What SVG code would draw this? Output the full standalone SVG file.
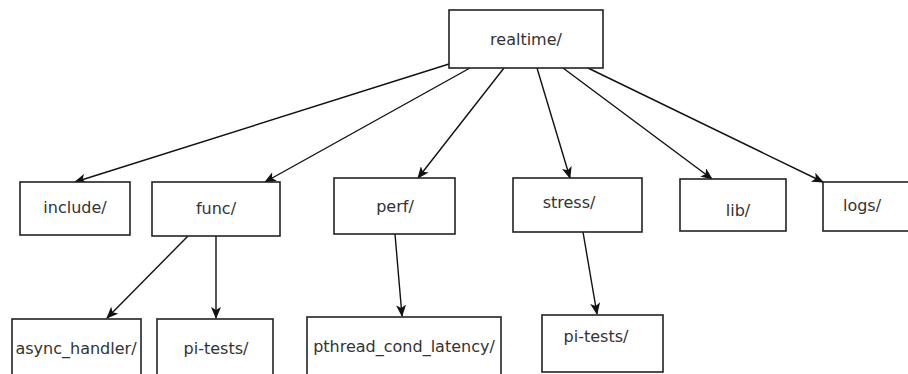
<svg xmlns="http://www.w3.org/2000/svg" width="908" height="374" viewBox="0 0 908 374">
<style>
.box{fill:#fff;stroke:#222;stroke-width:1.6}
.lbl{font-family:"DejaVu Sans",sans-serif;font-size:16px;fill:#333;text-anchor:middle;dominant-baseline:central}
.edge{stroke:#111;stroke-width:1.4;fill:none;marker-end:url(#ah)}
</style>
<defs>
<marker id="ah" viewBox="0 0 12 10" refX="11" refY="5" markerWidth="12" markerHeight="10" markerUnits="userSpaceOnUse" orient="auto">
<path d="M0,0 L12,5 L0,10 L3,5 Z" fill="#111"/>
</marker>
</defs>
<rect width="908" height="374" fill="#fff"/>
<g id="connectors">
<line class="edge" x1="449" y1="64" x2="75" y2="182"/>
<line class="edge" x1="470" y1="68" x2="265" y2="182"/>
<line class="edge" x1="504" y1="68" x2="418" y2="178"/>
<line class="edge" x1="537" y1="68" x2="570" y2="178"/>
<line class="edge" x1="563" y1="68" x2="712" y2="179"/>
<line class="edge" x1="588" y1="68" x2="823" y2="182"/>
<line class="edge" x1="188" y1="236" x2="107" y2="318"/>
<line class="edge" x1="216" y1="236" x2="216" y2="318"/>
<line class="edge" x1="395" y1="234" x2="402" y2="316"/>
<line class="edge" x1="583" y1="232" x2="597" y2="314"/>
</g>
<g id="realtime"><rect class="box" x="449" y="10" width="154" height="58"/><text class="lbl" x="526" y="39">realtime/</text></g>
<g id="include"><rect class="box" x="20" y="182" width="110" height="53"/><text class="lbl" x="75" y="207">include/</text></g>
<g id="func"><rect class="box" x="152" y="182" width="128" height="54"/><text class="lbl" x="216" y="208">func/</text></g>
<g id="perf"><rect class="box" x="334" y="178" width="121" height="56"/><text class="lbl" x="395" y="206">perf/</text></g>
<g id="stress"><rect class="box" x="513" y="178" width="129" height="54"/><text class="lbl" x="569" y="202">stress/</text></g>
<g id="lib"><rect class="box" x="680" y="179" width="106" height="52"/><text class="lbl" x="738" y="210">lib/</text></g>
<g id="logs"><rect class="box" x="823" y="182" width="90" height="49"/><text class="lbl" x="862" y="205">logs/</text></g>
<g id="async_handler"><rect class="box" x="12" y="319" width="129" height="60"/><text class="lbl" x="76" y="348">async_handler/</text></g>
<g id="pi-tests-func"><rect class="box" x="157" y="319" width="116" height="60"/><text class="lbl" x="216" y="348">pi-tests/</text></g>
<g id="pthread_cond_latency"><rect class="box" x="307" y="317" width="194" height="62"/><text class="lbl" x="404" y="346">pthread_cond_latency/</text></g>
<g id="pi-tests-stress"><rect class="box" x="542" y="315" width="121" height="57"/><text class="lbl" x="596" y="336">pi-tests/</text></g>
</svg>
